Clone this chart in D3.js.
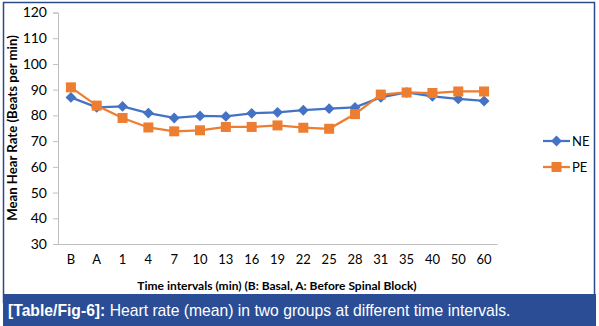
<!DOCTYPE html>
<html><head><meta charset="utf-8">
<script src="https://cdn.jsdelivr.net/npm/d3@7"></script>
<style>body{margin:0;background:#fff}svg{display:block}</style>
</head><body>
<script>
const categories = ["B","A","1","4","7","10","13","16","19","22","25","28","31","35","40","50","60"];
const neValues = [87.0,83.1,83.5,80.9,79.0,79.8,79.6,80.8,81.2,82.0,82.6,83.1,87.0,88.9,87.4,86.4,85.6];
const peValues = [90.9,83.8,79.0,75.3,73.8,74.2,75.5,75.5,76.1,75.2,74.8,80.5,88.1,88.9,88.7,89.3,89.3];
const yTicks = [30,40,50,60,70,80,90,100,110,120];
const seriesNames = ["NE","PE"];
const colors = ["#4472C4","#ED7D31"];

const W=599,H=326;
const svg=d3.select("body").append("svg").attr("width",W).attr("height",H);
const font="Lato, 'Open Sans', sans-serif";

// frame
svg.append("rect").attr("x",3.5).attr("y",2.5).attr("width",591).attr("height",300).attr("fill","#fff").attr("stroke","#2a4a8a").attr("stroke-width",1.5);
svg.append("rect").attr("x",3).attr("y",294).attr("width",593).attr("height",32).attr("fill","#2a4d96");
const cap=svg.append("text").attr("x",8).attr("y",316).attr("fill","#fff").attr("font-family","'Liberation Sans', Arial, sans-serif").attr("font-size",15.7);
cap.append("tspan").attr("font-weight","bold").text("[Table/Fig-6]:");
cap.append("tspan").text(" Heart rate (mean) in two groups at different time intervals.");

const x=d3.scaleBand().domain(categories).range([58,497]);
const y=d3.scaleLinear().domain([30,120]).range([244,12.5]);

const gy=svg.append("g").attr("transform","translate(58,0)").call(d3.axisLeft(y).tickValues(yTicks).tickSize(5).tickPadding(6));
gy.select(".domain").attr("stroke","#bfbfbf");
gy.selectAll(".tick line").attr("stroke","#bfbfbf");
gy.selectAll("text").attr("font-family",font).attr("font-size",14).attr("fill","#000");

const gx=svg.append("g").attr("transform","translate(0,244)").call(d3.axisBottom(x).tickSize(0).tickPadding(11));
gx.select(".domain").attr("stroke","#bfbfbf");
gx.selectAll("text").attr("font-family",font).attr("font-size",13).attr("fill","#000");

svg.append("text").attr("x",277).attr("y",290).attr("text-anchor","middle").attr("font-family",font).attr("font-weight","bold").attr("font-size",12).text("Time intervals (min) (B: Basal, A: Before Spinal Block)");
svg.append("text").attr("transform","translate(17,128) rotate(-90)").attr("text-anchor","middle").attr("font-family",font).attr("font-weight","bold").attr("font-size",13.2).text("Mean Hear Rate (Beats per min)");

const data=[neValues,peValues];
const line=d3.line().x((d,i)=>x(categories[i])+x.bandwidth()/2).y(d=>y(d));
const sym=[d3.symbol().type(d3.symbolDiamond2).size(75), d3.symbol().type(d3.symbolSquare).size(100)];
data.forEach((vals,k)=>{
  svg.append("path").attr("d",line(vals)).attr("fill","none").attr("stroke",colors[k]).attr("stroke-width",2.25);
  svg.selectAll(null).data(vals).enter().append("path").attr("d",sym[k]())
    .attr("transform",(d,i)=>`translate(${x(categories[i])+x.bandwidth()/2},${y(d)})`).attr("fill",colors[k]);
});

// legend
seriesNames.forEach((n,k)=>{
  const ly=141+k*26;
  const g=svg.append("g");
  g.append("line").attr("x1",543).attr("x2",570).attr("y1",ly).attr("y2",ly).attr("stroke",colors[k]).attr("stroke-width",2.25);
  g.append("path").attr("d",sym[k]()).attr("transform",`translate(556.5,${ly})`).attr("fill",colors[k]);
  g.append("text").attr("x",572).attr("y",ly+5).attr("font-family",font).attr("font-size",13).text(n);
});
</script>
</body></html>
